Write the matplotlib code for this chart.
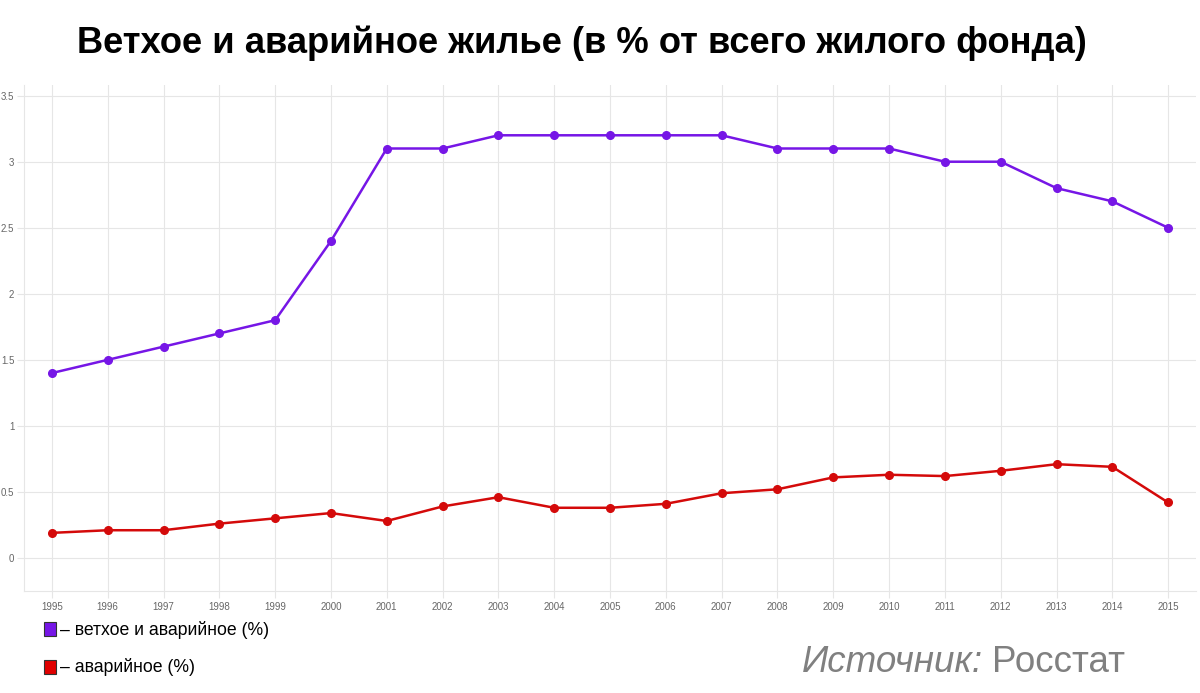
import matplotlib
matplotlib.use('Agg')
import matplotlib.pyplot as plt
from matplotlib.patches import Rectangle

years = list(range(1995, 2016))
vethoe = [1.4, 1.5, 1.6, 1.7, 1.8, 2.4, 3.1, 3.1, 3.2, 3.2, 3.2, 3.2, 3.2,
          3.1, 3.1, 3.1, 3.0, 3.0, 2.8, 2.7, 2.5]
avariynoe = [0.19, 0.21, 0.21, 0.26, 0.30, 0.34, 0.28, 0.39, 0.46, 0.38, 0.38,
             0.41, 0.49, 0.52, 0.61, 0.63, 0.62, 0.66, 0.71, 0.69, 0.42]
y_ticks = [0, 0.5, 1, 1.5, 2, 2.5, 3, 3.5]
y_labels = ['0', '0.5', '1', '1.5', '2', '2.5', '3', '3.5']

purple = '#7616e6'
red = '#d40a0a'
grid_c = '#e6e6e6'

plt.rcParams['font.family'] = ['Liberation Sans', 'DejaVu Sans']

fig = plt.figure(figsize=(12, 6.93), dpi=100)
ax = fig.add_axes([0.02, 0.1472, 0.9767, 0.73])

ax.plot(years, vethoe, color=purple, lw=1.8, marker='o', ms=5.5, zorder=3)
ax.plot(years, avariynoe, color=red, lw=1.8, marker='o', ms=5.5, zorder=3)

ax.set_xlim(1994.5, 2015.5)
ax.set_ylim(-0.25, 3.58)
ax.set_xticks(years)
ax.set_xticklabels([str(y) for y in years])
ax.set_yticks(y_ticks)
ax.set_yticklabels(y_labels)
ax.tick_params(axis='both', labelsize=7, colors='#666666', length=5,
               color=grid_c, width=0.8)
ax.tick_params(axis='x', pad=3)
ax.tick_params(axis='y', pad=2)
ax.grid(True, color=grid_c, lw=0.8, zorder=0)
for side in ['top', 'right']:
    ax.spines[side].set_visible(False)
for side in ['left', 'bottom']:
    ax.spines[side].set_color(grid_c)
    ax.spines[side].set_linewidth(0.8)

fig.text(0.485, 0.938, 'Ветхое и аварийное жилье (в % от всего жилого фонда)',
         ha='center', va='center', fontsize=26.2, fontweight='bold', color='black')

# легенда
fig.patches.append(Rectangle((44 / 1200, 1 - 636 / 693), 12 / 1200, 14 / 693,
                             transform=fig.transFigure, facecolor=purple,
                             edgecolor='#333333', lw=0.8))
fig.text(60 / 1200, 1 - 630 / 693, '– ветхое и аварийное (%)', ha='left',
         va='center', fontsize=12.7, color='black')
fig.patches.append(Rectangle((44 / 1200, 1 - 674 / 693), 12 / 1200, 14 / 693,
                             transform=fig.transFigure, facecolor='#e00000',
                             edgecolor='#333333', lw=0.8))
fig.text(60 / 1200, 1 - 667 / 693, '– аварийное (%)', ha='left',
         va='center', fontsize=12.7, color='black')

src = fig.text(802 / 1200, 1 - 663 / 693, 'Источник:', ha='left', va='center',
               fontsize=26.5, style='italic', color='#808080')
fig.canvas.draw()
bb = src.get_window_extent()
fig.text(bb.x1 / 1200 + 0.007, 1 - 663 / 693, 'Росстат', ha='left', va='center',
         fontsize=26.5, color='#808080')

fig.savefig('out.png', dpi=100)
